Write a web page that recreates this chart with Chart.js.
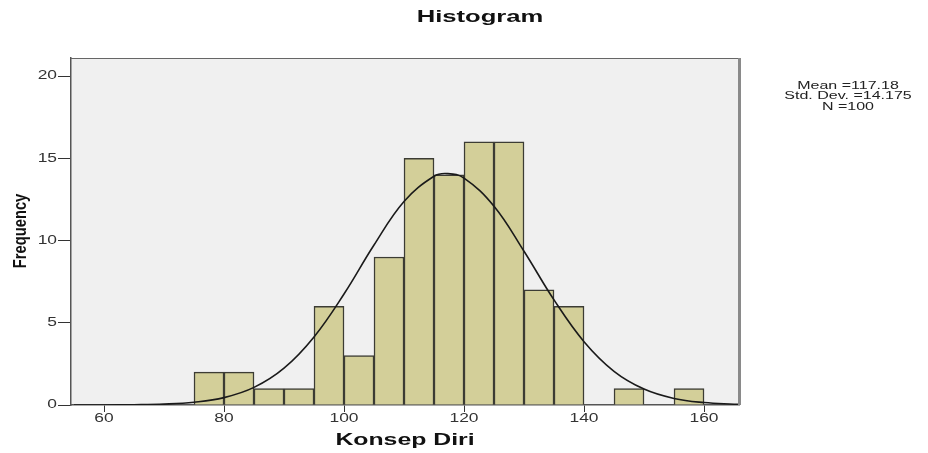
<!DOCTYPE html>
<html lang="id">
    <head>
        <meta charset="utf-8"/>
        <title>Histogram Konsep Diri</title>
        <script src="https://cdn.jsdelivr.net/npm/chart.js@4.4.1/dist/chart.umd.min.js"></script>
        <style>
            body { margin: 0; background: #ffffff; }
        </style>
    </head>
    <body>
            <canvas id="hist" width="928" height="453"></canvas>

            <script>
                // data
                const binCenters = [77.5, 82.5, 87.5, 92.5, 97.5, 102.5, 107.5, 112.5, 117.5, 122.5, 127.5, 132.5, 137.5, 142.5, 147.5, 152.5, 157.5];
                const counts     = [2, 2, 1, 1, 6, 3, 9, 15, 14, 16, 16, 7, 6, 0, 1, 0, 1];
                const curveX = [55, 60, 65, 70, 75, 80, 85, 90, 95, 100, 105, 110, 115, 117.18, 120, 125, 130, 135, 140, 145, 150, 155, 160, 165, 166];
                const curveY = [0.001, 0.004, 0.016, 0.055, 0.17, 0.45, 1.07, 2.24, 4.14, 6.75, 9.73, 12.38, 13.91, 14.07, 13.8, 12.09, 9.35, 6.39, 3.85, 2.05, 0.97, 0.4, 0.15, 0.05, 0.04];
                const xTicks = [60, 80, 100, 120, 140, 160];
                const yTicks = [0, 5, 10, 15, 20];
                const statLines = ['Mean =117.18', 'Std. Dev. =14.175', 'N =100'];

                // text in the picture is stretched sideways, so draw it with a scale
                function stretchText(ctx, txt, x, y, font, sx, align) {
                    ctx.save();
                    ctx.font = font;
                    ctx.textAlign = align;
                    ctx.textBaseline = 'middle';
                    ctx.translate(x, y);
                    ctx.scale(sx, 1);
                    ctx.fillText(txt, 0, 0);
                    ctx.restore();
                }

                const spssLook = {
                    id: 'spssLook',
                    beforeDraw(chart) {
                        const c = chart.ctx, a = chart.chartArea;
                        c.save();
                        c.fillStyle = '#ffffff';
                        c.fillRect(0, 0, chart.width, chart.height);
                        c.fillStyle = '#f0f0f0';
                        c.fillRect(a.left, a.top, a.right - a.left, a.bottom - a.top);
                        c.restore();
                    },
                    afterDraw(chart) {
                        const c = chart.ctx, a = chart.chartArea;
                        const xs = chart.scales.x, ys = chart.scales.y;
                        c.save();
                        // top + right frame
                        c.strokeStyle = '#666';
                        c.lineWidth = 1;
                        c.beginPath();
                        c.moveTo(a.left, a.top + 0.5);
                        c.lineTo(a.right, a.top + 0.5);
                        c.stroke();
                        c.strokeStyle = '#8a8a8a';
                        c.lineWidth = 3;
                        c.beginPath();
                        c.moveTo(a.right + 0.5, a.top);
                        c.lineTo(a.right + 0.5, a.bottom);
                        c.stroke();

                        c.fillStyle = '#333';
                        xTicks.forEach(v => {
                            stretchText(c, String(v), xs.getPixelForValue(v), a.bottom + 14, '12px "Liberation Sans"', 1.45, 'center');
                        });
                        yTicks.forEach(v => {
                            stretchText(c, String(v), a.left - 14, ys.getPixelForValue(v), '12px "Liberation Sans"', 1.45, 'right');
                        });

                        c.fillStyle = '#111';
                        stretchText(c, 'Histogram', 480, 18, 'bold 16px "Liberation Sans"', 1.6, 'center');
                        stretchText(c, 'Konsep Diri', (a.left + a.right) / 2, 441, 'bold 16px "Liberation Sans"', 1.55, 'center');

                        c.fillStyle = '#222';
                        statLines.forEach((t, i) => {
                            stretchText(c, t, 848, 86 + i * 10.5, '10px "Liberation Sans"', 1.6, 'center');
                        });

                        // rotated y title, narrow and tall like the SPSS output
                        c.save();
                        c.translate(26, 231);
                        c.rotate(-Math.PI / 2);
                        c.scale(0.82, 1);
                        c.font = 'bold 18px "Liberation Sans"';
                        c.textAlign = 'center';
                        c.textBaseline = 'alphabetic';
                        c.fillStyle = '#111';
                        c.fillText('Frequency', 0, 0);
                        c.restore();
                        c.restore();
                    }
                };

                var ctx = document.getElementById('hist').getContext('2d');

                var chart = new Chart(ctx, {
                    type: 'bar',
                    data: {
                        datasets: [
                            {
                                type: 'line',
                                data: curveX.map((x, i) => ({x: x, y: curveY[i]})),
                                borderColor: '#1a1a1a',
                                borderWidth: 1.6,
                                pointRadius: 0,
                                tension: 0.4,
                                fill: false,
                                order: 0
                            },
                            {
                                type: 'bar',
                                data: binCenters.map((x, i) => ({x: x, y: counts[i]})),
                                backgroundColor: '#d3cf99',
                                borderColor: '#3c3c34',
                                borderWidth: 1.5,
                                borderSkipped: 'bottom',
                                barPercentage: 1,
                                categoryPercentage: 1,
                                order: 1
                            }
                        ]
                    },
                    options: {
                        responsive: false,
                        animation: false,
                        layout: {
                            padding: { left: 0, right: 189, top: 58, bottom: 0 }
                        },
                        plugins: {
                            legend: { display: false },
                            tooltip: { enabled: false },
                            title: { display: false }
                        },
                        scales: {
                            x: {
                                type: 'linear',
                                offset: false,
                                min: 54.5,
                                max: 165.83,
                                afterBuildTicks: s => { s.ticks = xTicks.map(v => ({value: v})); },
                                afterFit: s => { s.height = 48; },
                                ticks: { display: false },
                                grid: {
                                    offset: false,
                                    drawOnChartArea: false,
                                    drawTicks: true,
                                    tickLength: 7,
                                    color: '#333'
                                },
                                border: { color: '#555', width: 1.5 }
                            },
                            y: {
                                min: 0,
                                max: 21.1,
                                afterBuildTicks: s => { s.ticks = yTicks.map(v => ({value: v})); },
                                afterFit: s => { s.width = 71; },
                                ticks: { display: false },
                                grid: {
                                    drawOnChartArea: false,
                                    drawTicks: true,
                                    tickLength: 13,
                                    color: '#333'
                                },
                                border: { color: '#555', width: 1.5 }
                            }
                        }
                    },
                    plugins: [spssLook]
                });
            </script>
    </body>
</html>
